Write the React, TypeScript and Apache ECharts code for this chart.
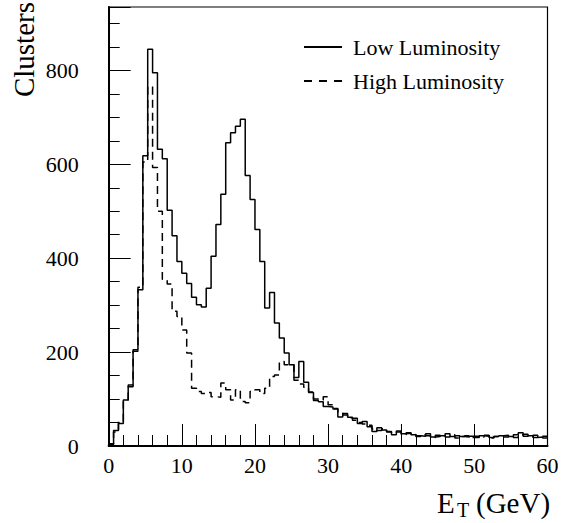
import React, { useEffect, useRef } from 'react';
import * as echarts from 'echarts';

// Histogram binning: 90 bins spanning 0–60 GeV
const ET_MIN = 0;
const ET_MAX = 60;
const N_BINS = 90;
const BIN_WIDTH = (ET_MAX - ET_MIN) / N_BINS;

// Cluster counts per bin, low luminosity
const lowLumi = [
  5, 33, 48, 98, 130, 205, 333, 618, 845, 795,
  632, 612, 502, 448, 393, 368, 346, 317, 301, 296,
  336, 404, 472, 536, 646, 667, 681, 696, 576, 525,
  461, 393, 294, 327, 262, 230, 198, 173, 146, 180,
  136, 114, 97, 94, 84, 83, 79, 62, 69, 61,
  59, 48, 52, 41, 31, 39, 34, 31, 24, 32,
  26, 27, 24, 22, 21, 26, 19, 20, 22, 26,
  20, 22, 20, 19, 21, 18, 22, 21, 18, 20,
  22, 23, 20, 24, 28, 25, 22, 18, 19, 17,
];

// Cluster counts per bin, high luminosity
const highLumi = [
  3, 30, 52, 95, 126, 202, 338, 605, 765, 593,
  500, 355, 345, 287, 276, 247, 198, 123, 116, 112,
  114, 105, 104, 134, 120, 98, 120, 95, 92, 116,
  120, 112, 123, 148, 151, 180, 173, 173, 140, 132,
  125, 115, 100, 98, 105, 88, 80, 72, 66, 60,
  55, 50, 47, 44, 36, 33, 37, 30, 28, 30,
  24, 28, 25, 20, 24, 22, 18, 23, 21, 19,
  24, 17, 20, 22, 18, 21, 19, 23, 17, 20,
  21, 19, 22, 18, 24, 21, 20, 23, 19, 21,
];

const yLabelValues = [0, 200, 400, 600, 800];
const Y_MAX = 935;

const SERIF = '"Liberation Serif", "Times New Roman", Times, serif';

// Turn bin counts into outline points: [lowEdge, count] for every bin plus the last edge.
function histogramOutline(counts: number[]): number[][] {
  const pts: number[][] = [[ET_MIN, 0]];
  counts.forEach((c, i) => pts.push([ET_MIN + i * BIN_WIDTH, c]));
  pts.push([ET_MIN + counts.length * BIN_WIDTH, counts[counts.length - 1]]);
  return pts;
}

export default function App() {
  const ref = useRef<HTMLDivElement>(null);

  useEffect(() => {
    if (!ref.current) return;
    const chart = echarts.init(ref.current, undefined, { renderer: 'svg' });

    const axisLineStyle = { color: '#000', width: 2 };
    const tickStyle = { color: '#000', width: 1 };

    chart.setOption({
      animation: false,
      backgroundColor: '#fff',
      grid: {
        left: 108.7,
        right: 19.5,
        top: 7,
        bottom: 77,
        show: true,
        borderColor: '#000',
        borderWidth: 1.2,
      },
      xAxis: {
        type: 'value',
        min: ET_MIN,
        max: ET_MAX,
        interval: 10,
        axisLine: { show: true, onZero: false, lineStyle: axisLineStyle },
        axisTick: { show: true, inside: true, length: 22, lineStyle: tickStyle },
        minorTick: { show: true, splitNumber: 5, length: 11, lineStyle: tickStyle },
        splitLine: { show: false },
        minorSplitLine: { show: false },
        axisLabel: {
          color: '#000',
          fontFamily: SERIF,
          fontSize: 22,
          margin: 8,
          showMinLabel: true,
          showMaxLabel: true,
        },
      },
      yAxis: [
        {
          type: 'value',
          min: 0,
          max: Y_MAX,
          interval: 200,
          position: 'left',
          axisLine: { show: true, onZero: false, lineStyle: axisLineStyle },
          axisTick: { show: true, inside: true, length: 22, lineStyle: tickStyle },
          splitLine: { show: false },
          axisLabel: {
            color: '#000',
            fontFamily: SERIF,
            fontSize: 22,
            margin: 30,
            formatter: (v: number) => (yLabelValues.includes(v) ? String(v) : ''),
          },
        },
        {
          type: 'value',
          min: 0,
          max: Y_MAX,
          interval: 50,
          position: 'left',
          offset: 0,
          axisLine: { show: false },
          axisTick: { show: true, inside: true, length: 11, lineStyle: tickStyle },
          splitLine: { show: false },
          axisLabel: { show: false },
        },
      ],
      legend: {
        orient: 'vertical',
        left: 298,
        top: 31,
        itemWidth: 38,
        itemHeight: 14,
        itemGap: 12,
        itemStyle: { color: 'rgba(0,0,0,0)', borderWidth: 0, opacity: 0 },
        textStyle: {
          color: '#000',
          fontFamily: SERIF,
          fontSize: 22,
          padding: [0, 0, 0, 6],
        },
        data: [
          { name: 'Low Luminosity' },
          { name: 'High Luminosity', lineStyle: { type: [8, 7] } },
        ],
      },
      series: [
        {
          name: 'Low Luminosity',
          type: 'line',
          step: 'end',
          data: histogramOutline(lowLumi),
          symbol: 'none',
          lineStyle: { color: '#000', width: 1.5 },
          itemStyle: { color: '#000' },
          z: 3,
        },
        {
          name: 'High Luminosity',
          type: 'line',
          step: 'end',
          data: histogramOutline(highLumi),
          symbol: 'none',
          lineStyle: { color: '#000', width: 1.5, type: [8, 5] },
          itemStyle: { color: '#000' },
          z: 2,
        },
      ],
      graphic: [
        {
          type: 'text',
          x: 24,
          y: 2,
          rotation: Math.PI / 2,
          style: {
            text: 'Clusters',
            fontFamily: SERIF,
            fontSize: 29,
            fill: '#000',
            align: 'right',
            verticalAlign: 'middle',
          },
        },
        {
          type: 'text',
          x: 437,
          y: 503,
          style: {
            text: 'E',
            fontFamily: SERIF,
            fontSize: 29,
            fill: '#000',
            align: 'left',
            verticalAlign: 'middle',
          },
        },
        {
          type: 'text',
          x: 457,
          y: 510,
          style: {
            text: 'T',
            fontFamily: SERIF,
            fontSize: 20,
            fill: '#000',
            align: 'left',
            verticalAlign: 'middle',
          },
        },
        {
          type: 'text',
          x: 476,
          y: 503,
          style: {
            text: '(GeV)',
            fontFamily: SERIF,
            fontSize: 29,
            fill: '#000',
            align: 'left',
            verticalAlign: 'middle',
          },
        },
      ],
    });

    return () => chart.dispose();
  }, []);

  return (
    <div
      ref={ref}
      style={{ position: 'absolute', left: 0, top: 0, width: 567, height: 523 }}
    />
  );
}
